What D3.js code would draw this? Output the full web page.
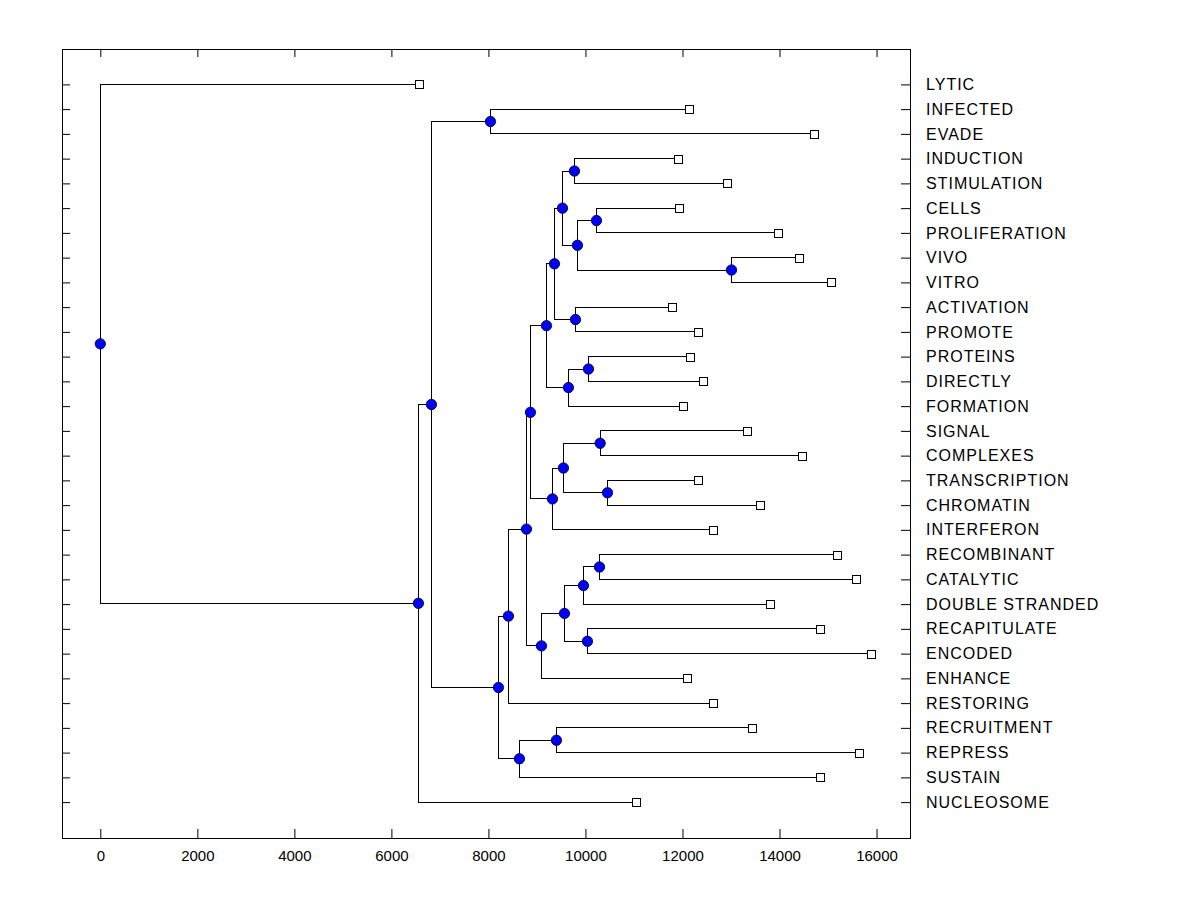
<!DOCTYPE html>
<html lang="en">
<head>
<meta charset="utf-8">
<title>Dendrogram</title>
<style>
  body { margin: 0; background: #fff; }
</style>
</head>
<body>
<svg id="chart" width="1200" height="900"></svg>
<script src="https://d3js.org/d3.v7.min.js"></script>
<script>
// leaves, top to bottom
const leaves = ["LYTIC", "INFECTED", "EVADE", "INDUCTION", "STIMULATION", "CELLS",
  "PROLIFERATION", "VIVO", "VITRO", "ACTIVATION", "PROMOTE", "PROTEINS", "DIRECTLY",
  "FORMATION", "SIGNAL", "COMPLEXES", "TRANSCRIPTION", "CHROMATIN", "INTERFERON",
  "RECOMBINANT", "CATALYTIC", "DOUBLE STRANDED", "RECAPITULATE", "ENCODED", "ENHANCE",
  "RESTORING", "RECRUITMENT", "REPRESS", "SUSTAIN", "NUCLEOSOME"];

const leafValues = [6565, 12144, 14701, 11918, 12928, 11938,
  13979, 14412, 15052, 11794, 12330, 12165, 12433,
  12021, 13340, 14474, 12330, 13608, 12639,
  15175, 15567, 13814, 14825, 15876, 12103,
  12639, 13443, 15649, 14825, 11052];

// merges, bottom-up: [name, first child, second child, height]
const merges = [
  ["m1", "VIVO", "VITRO", 13010],
  ["m2", "CELLS", "PROLIFERATION", 10227],
  ["m3", "m2", "m1", 9835],
  ["m4", "INDUCTION", "STIMULATION", 9773],
  ["m5", "m4", "m3", 9526],
  ["m6", "ACTIVATION", "PROMOTE", 9794],
  ["m7", "m5", "m6", 9361],
  ["m8", "PROTEINS", "DIRECTLY", 10062],
  ["m9", "m8", "FORMATION", 9649],
  ["m10", "m7", "m9", 9196],
  ["m11", "SIGNAL", "COMPLEXES", 10303],
  ["m12", "TRANSCRIPTION", "CHROMATIN", 10454],
  ["m13", "m11", "m12", 9546],
  ["m14", "m13", "INTERFERON", 9320],
  ["m15", "m10", "m14", 8866],
  ["m16", "RECOMBINANT", "CATALYTIC", 10289],
  ["m17", "m16", "DOUBLE STRANDED", 9959],
  ["m18", "RECAPITULATE", "ENCODED", 10041],
  ["m19", "m17", "m18", 9567],
  ["m20", "m19", "ENHANCE", 9093],
  ["m21", "m15", "m20", 8784],
  ["m22", "m21", "RESTORING", 8412],
  ["m23", "RECRUITMENT", "REPRESS", 9402],
  ["m24", "m23", "SUSTAIN", 8639],
  ["m25", "m22", "m24", 8206],
  ["m26", "INFECTED", "EVADE", 8041],
  ["m27", "m26", "m25", 6825],
  ["m28", "m27", "NUCLEOSOME", 6557],
  ["m29", "LYTIC", "m28", 0]
];

const xTicks = [0, 2000, 4000, 6000, 8000, 10000, 12000, 14000, 16000];

const svg = d3.select("#chart");
const plotLeft = 62, plotRight = 910, plotTop = 49, plotBottom = 838;

const x = d3.scaleLinear().domain([-790, 16690]).range([plotLeft, plotRight]);
const y = d3.scaleLinear().domain([-1.43, 30.45]).range([plotTop, plotBottom]);

// node positions: value along x, leaf index along y
const pos = {};
leaves.forEach((name, i) => { pos[name] = { v: leafValues[i], i: i }; });
merges.forEach(m => {
  pos[m[0]] = { v: m[3], i: (pos[m[1]].i + pos[m[2]].i) / 2 };
});

// frame
svg.append("rect")
  .attr("x", plotLeft + 0.5).attr("y", plotTop + 0.5)
  .attr("width", plotRight - plotLeft).attr("height", plotBottom - plotTop)
  .attr("fill", "none").attr("stroke", "black");

// axes
function tidy(g) {
  g.select(".domain").remove();
  g.attr("font-family", "'Liberation Sans', Arial, sans-serif");
}

svg.append("g")
  .attr("transform", `translate(0,${plotBottom})`)
  .call(d3.axisBottom(x).tickValues(xTicks).tickSize(-9).tickSizeOuter(0)
    .tickPadding(12).tickFormat(d3.format("d")))
  .call(tidy)
  .attr("font-size", 15)
  .selectAll("text").attr("fill", "black");

svg.append("g")
  .attr("transform", `translate(0,${plotTop})`)
  .call(d3.axisTop(x).tickValues(xTicks).tickSize(-8).tickSizeOuter(0).tickFormat(""))
  .call(tidy);

svg.append("g")
  .attr("transform", `translate(${plotLeft},0)`)
  .call(d3.axisLeft(y).tickValues(d3.range(leaves.length)).tickSize(-8).tickSizeOuter(0).tickFormat(""))
  .call(tidy);

svg.append("g")
  .attr("transform", `translate(${plotRight},0)`)
  .call(d3.axisRight(y).tickValues(d3.range(leaves.length)).tickSize(-9).tickSizeOuter(0)
    .tickPadding(16).tickFormat(i => leaves[i]))
  .call(tidy)
  .attr("font-size", 16)
  .selectAll("text").attr("fill", "black").attr("letter-spacing", "1px");

// elbow links
svg.append("g")
  .selectAll("path")
  .data(merges)
  .join("path")
  .attr("fill", "none")
  .attr("stroke", "black")
  .attr("stroke-width", 1)
  .attr("shape-rendering", "crispEdges")
  .attr("d", m => {
    const a = pos[m[1]], b = pos[m[2]], n = pos[m[0]];
    return `M${x(a.v)},${y(a.i)}H${x(n.v)}V${y(b.i)}H${x(b.v)}`;
  });

// leaf squares
svg.append("g")
  .selectAll("rect")
  .data(leaves)
  .join("rect")
  .attr("x", d => Math.round(x(pos[d].v)) - 4 + 0.5)
  .attr("y", d => Math.round(y(pos[d].i)) - 4 + 0.5)
  .attr("width", 8).attr("height", 8)
  .attr("fill", "white").attr("stroke", "black");

// merge circles
svg.append("g")
  .selectAll("circle")
  .data(merges)
  .join("circle")
  .attr("cx", m => x(pos[m[0]].v))
  .attr("cy", m => y(pos[m[0]].i))
  .attr("r", 5.2)
  .attr("fill", "#0000ff")
  .attr("stroke", "black")
  .attr("stroke-width", 0.8);
</script>
</body>
</html>
